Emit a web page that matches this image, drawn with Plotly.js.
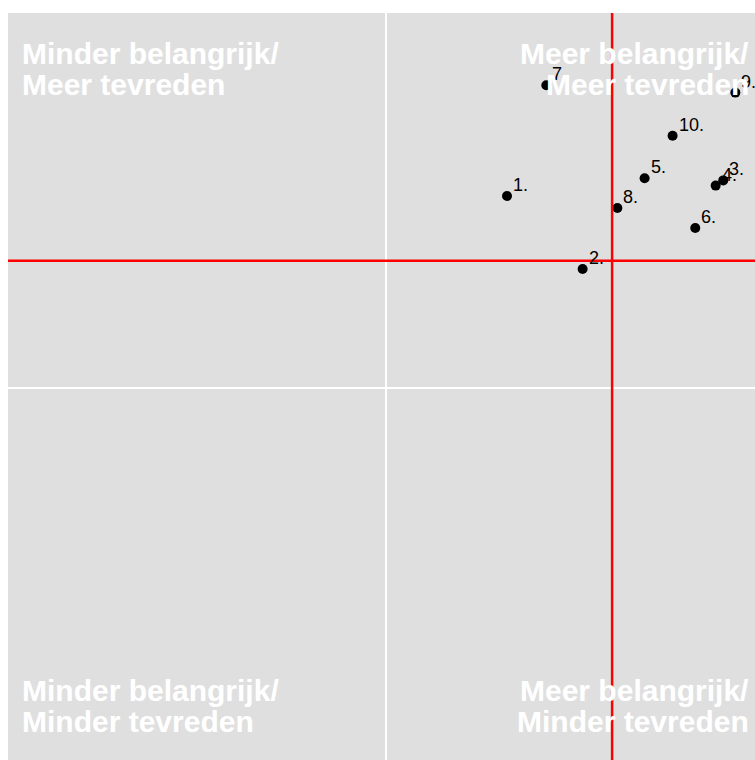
<!DOCTYPE html>
<html>
<head>
<meta charset="utf-8">
<script src="https://cdn.plot.ly/plotly-3.0.1.min.js"></script>
<style>html,body{margin:0;padding:0;background:#fff;}</style>
</head>
<body>
<div id="chart" style="width:755px;height:760px;"></div>
<script>
// Data
const labels = ["1.", "2.", "3.", "4.", "5.", "6.", "7.", "8.", "9.", "10."];
const importance = [3.660, 3.760, 3.946, 3.936, 3.842, 3.909, 3.712, 3.806, 3.962, 3.879];
const satisfaction = [3.758, 3.660, 3.779, 3.772, 3.782, 3.715, 3.907, 3.742, 3.897, 3.839];
const meanImportance = 3.799;
const meanSatisfaction = 3.671;
const quadrantLines = {
  topLeft: ["Minder belangrijk/", "Meer tevreden"],
  topRight: ["Meer belangrijk/", "Meer tevreden"],
  bottomLeft: ["Minder belangrijk/", "Minder tevreden"],
  bottomRight: ["Meer belangrijk/", "Minder tevreden"]
};

const trace = {
  type: "scatter",
  mode: "markers",
  x: importance,
  y: satisfaction,
  marker: {color: "#000", size: 10},
  cliponaxis: true,
  hoverinfo: "none",
  showlegend: false
};

// point labels as annotations tied to the data coordinates
const labelFont = {family: "Liberation Sans, Arial, sans-serif", size: 18, color: "#000"};
const labelAnns = labels.map((t, i) => ({
  text: t, xref: "x", yref: "y", x: importance[i], y: satisfaction[i],
  xanchor: "left", yanchor: "middle", xshift: 4, yshift: 11,
  showarrow: false, font: labelFont
}));

const annFont = {family: "Liberation Sans, Arial, sans-serif", size: 30, color: "#ffffff", weight: "bold"};
function ann(text, x, y, xanchor) {
  return {text: "<b>" + text + "</b>", xref: "paper", yref: "paper", x: x, y: y,
          xanchor: xanchor, yanchor: "middle", showarrow: false, font: annFont, align: xanchor};
}
const quadAnns = [
  ann(quadrantLines.topLeft[0], 0.0160, 0.9462, "left"),
  ann(quadrantLines.topLeft[1], 0.0160, 0.9047, "left"),
  ann(quadrantLines.topRight[0], 0.9950, 0.9462, "right"),
  ann(quadrantLines.topRight[1], 0.9950, 0.9047, "right"),
  ann(quadrantLines.bottomLeft[0], 0.0160, 0.0935, "left"),
  ann(quadrantLines.bottomLeft[1], 0.0160, 0.0520, "left"),
  ann(quadrantLines.bottomRight[0], 0.9950, 0.0935, "right"),
  ann(quadrantLines.bottomRight[1], 0.9950, 0.0520, "right")
];

const layout = {
  width: 755, height: 760,
  margin: {l: 8, r: 0, t: 13, b: 0, pad: 0},
  paper_bgcolor: "#ffffff",
  plot_bgcolor: "#dfdfdf",
  xaxis: {range: [3.0, 3.988], tickvals: [3.5], showticklabels: false, ticks: "",
          showgrid: true, gridcolor: "#ffffff", gridwidth: 2, zeroline: false, showline: false, fixedrange: true},
  yaxis: {range: [3.0, 4.004], tickvals: [3.5], showticklabels: false, ticks: "",
          showgrid: true, gridcolor: "#ffffff", gridwidth: 2, zeroline: false, showline: false, fixedrange: true},
  shapes: [
    {type: "line", xref: "x", yref: "paper", x0: meanImportance, x1: meanImportance, y0: 0, y1: 1,
     line: {color: "#ff0000", width: 2.5}, layer: "above"},
    {type: "line", xref: "paper", yref: "y", x0: 0, x1: 1, y0: meanSatisfaction, y1: meanSatisfaction,
     line: {color: "#ff0000", width: 2.5}, layer: "above"}
  ],
  annotations: labelAnns.concat(quadAnns),
  showlegend: false
};

Plotly.newPlot("chart", [trace], layout, {displayModeBar: false, staticPlot: true});
</script>
</body>
</html>
